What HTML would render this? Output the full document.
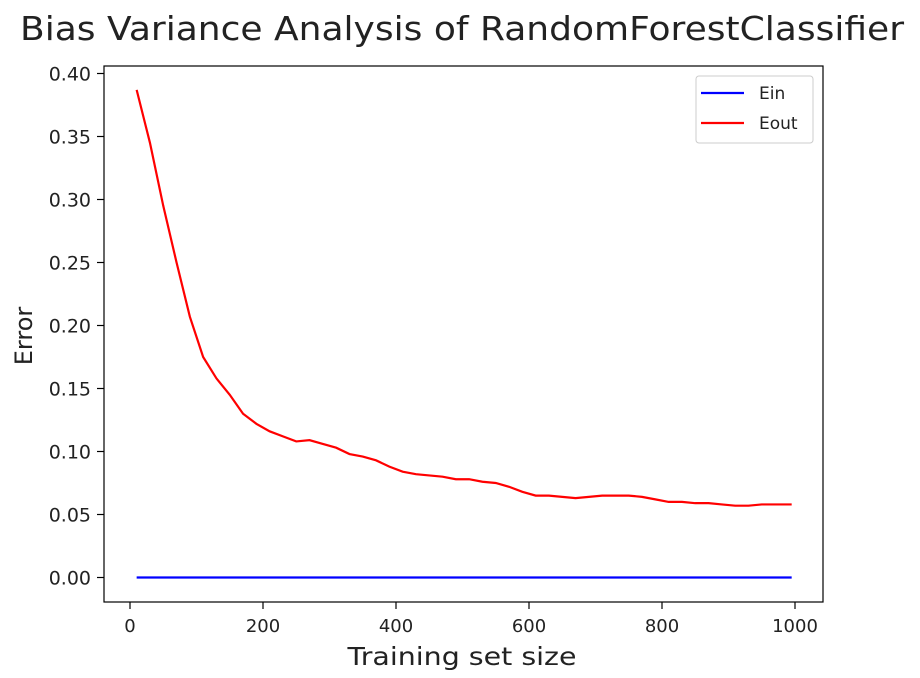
<!DOCTYPE html>
<html><head><meta charset="utf-8"><style>
body{margin:0;background:#fff;}
svg text{font-family:"DejaVu Sans","Liberation Sans",sans-serif;fill:#222;}
</style></head><body>
<svg width="920" height="673" viewBox="0 0 920 673">
<rect width="920" height="673" fill="#fff"/>
<text x="462" y="40" font-size="33" text-anchor="middle" textLength="884" lengthAdjust="spacingAndGlyphs">Bias Variance Analysis of RandomForestClassifier</text>
<g id="plot"></g>
<text x="462" y="665" font-size="25" text-anchor="middle" textLength="229" lengthAdjust="spacingAndGlyphs">Training set size</text>
<text transform="translate(32,336) rotate(-90)" font-size="24" text-anchor="middle">Error</text>
</svg>
<script>
const xTicks=[0,200,400,600,800,1000];
const yTicks=[0,0.05,0.10,0.15,0.20,0.25,0.30,0.35,0.40];
const sizes=[10,30,50,70,90,110,130,150,170,190,210,230,250,270,290,310,330,350,370,390,410,430,450,470,490,510,530,550,570,590,610,630,650,670,690,710,730,750,770,790,810,830,850,870,890,910,930,950,970,995];
const eout=[0.387,0.345,0.295,0.25,0.207,0.175,0.158,0.145,0.13,0.122,0.116,0.112,0.108,0.109,0.106,0.103,0.098,0.096,0.093,0.088,0.084,0.082,0.081,0.080,0.078,0.078,0.076,0.075,0.072,0.068,0.065,0.065,0.064,0.063,0.064,0.065,0.065,0.065,0.064,0.062,0.060,0.060,0.059,0.059,0.058,0.057,0.057,0.058,0.058,0.058];
const ein=sizes.map(()=>0);
const NS='http://www.w3.org/2000/svg';
const L=104,R=823,T=66,B=602;
const xs=v=>130+v*0.665;
const ys=v=>577.5-v*1260;
const g=document.getElementById('plot');
function mk(t,a){const e=document.createElementNS(NS,t);for(const k in a)e.setAttribute(k,a[k]);g.appendChild(e);return e;}
xTicks.forEach(t=>{
 const l=mk('line',{x1:xs(t),x2:xs(t),y1:B,y2:B+7,stroke:'#000','stroke-width':1.2});
 
 
 const tx=mk('text',{x:xs(t),y:B+30,'font-size':18,'text-anchor':'middle'});tx.textContent=t;
 
 
});
yTicks.forEach(t=>{
 const l=mk('line',{x1:L-7,x2:L,y1:ys(t),y2:ys(t),stroke:'#000','stroke-width':1.2});
 
 
 const tx=mk('text',{x:L-13,y:ys(t)+7,'font-size':19,'text-anchor':'end'});tx.textContent=t.toFixed(2);
 
 
});
function line(arr,c,n){
 const p=mk('polyline',{points:sizes.map((s,i)=>xs(s)+','+ys(arr[i])).join(' '),fill:'none',stroke:c,'stroke-width':2.2});
 
 
}
line(ein,'#0000ff','ein-line');
line(eout,'#ff0000','eout-line');
const fr=mk('rect',{x:L,y:T,width:R-L,height:B-T,fill:'none',stroke:'#000','stroke-width':1.2});


const lg=mk('rect',{x:696,y:76,width:117,height:67,rx:3,fill:'#fff',stroke:'#ccc'});


[['Ein','#0000ff',93],['Eout','#ff0000',123]].forEach(([n,c,y])=>{
 const l=mk('line',{x1:701,x2:744,y1:y,y2:y,stroke:c,'stroke-width':2.2});
 
 
 const t=mk('text',{x:759,y:y+6,'font-size':17});t.textContent=n;
 
 
});
</script>
</body></html>
